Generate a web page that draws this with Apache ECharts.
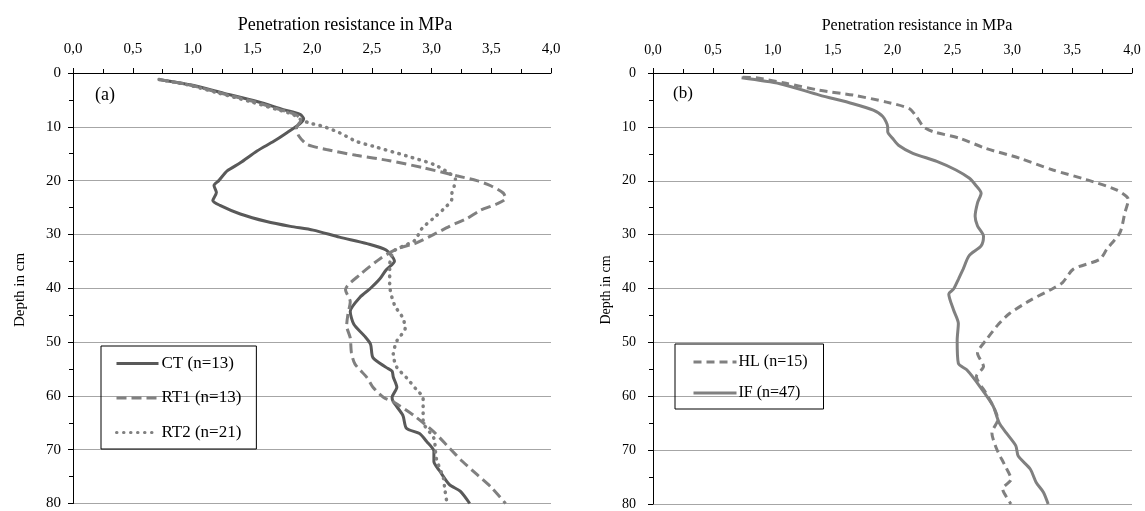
<!DOCTYPE html>
<html>
<head>
<meta charset="utf-8">
<script src="https://cdn.jsdelivr.net/npm/echarts@6/dist/echarts.min.js"></script>
<style>
html,body{margin:0;padding:0;background:#fff;}
#c{width:1145px;height:511px;}
</style>
</head>
<body>
<div id="c"></div>
<script>
// ---- Panel (a) ----
const ctDepth = [1.2,2.2,3.75,5.3,6.8,7.7,8.5,9.4,11.1,12.7,14.5,16.7,18.2,20.0,20.9,22.2,23.7,24.6,26.2,27.6,28.5,29.2,30.5,31.7,32.9,35.0,36.6,38.2,40.0,41.7,44.3,46.7,48.9,50.4,52.9,54.7,55.4,56.5,58.4,60.3,61.1,63.6,66.0,67.0,68.5,70.3,72.2,74.0,76.5,77.7,80.0];
const ctValue = [0.72,0.98,1.26,1.54,1.76,1.90,1.93,1.90,1.79,1.68,1.54,1.40,1.29,1.22,1.18,1.20,1.17,1.23,1.40,1.62,1.82,2.01,2.23,2.46,2.62,2.69,2.62,2.57,2.49,2.40,2.32,2.35,2.44,2.49,2.51,2.62,2.67,2.68,2.71,2.67,2.68,2.76,2.79,2.90,2.96,3.02,3.02,3.07,3.15,3.24,3.32];

const rt1Depth = [1.2,2.2,3.75,5.3,6.8,7.7,8.7,10.2,11.7,13.3,14.2,15.3,16.3,17.6,19.1,20.0,21.0,22.3,23.3,24.3,25.5,27.0,28.5,30.0,31.7,32.6,34.5,37.5,40.3,42.5,44.9,47.0,49.2,52.0,54.1,56.6,58.4,60.3,61.1,63.6,66.7,69.7,72.2,74.6,77.0,80.0];
const rt1Value = [0.72,0.97,1.24,1.51,1.73,1.86,1.91,1.87,1.89,1.96,2.12,2.37,2.65,2.93,3.21,3.38,3.50,3.60,3.62,3.55,3.41,3.30,3.15,3.02,2.86,2.72,2.57,2.40,2.28,2.32,2.30,2.29,2.32,2.33,2.36,2.46,2.51,2.60,2.68,2.85,3.02,3.15,3.26,3.38,3.50,3.62];

const rt2Depth = [1.2,2.2,3.75,5.3,6.8,7.7,8.7,9.3,9.9,11.1,12.7,13.6,15.4,17.0,18.5,19.7,21.0,22.5,23.4,25.3,27.1,28.9,31.1,32.2,33.2,35.7,39.4,43.1,45.5,47.4,49.8,52.3,54.7,56.6,59.0,60.3,62.4,64.8,67.9,71.6,75.3,77.1,80.0];
const rt2Value = [0.72,0.96,1.22,1.48,1.71,1.84,1.91,1.98,2.09,2.23,2.37,2.51,2.79,3.02,3.14,3.20,3.19,3.17,3.17,3.10,3.01,2.92,2.86,2.76,2.68,2.65,2.65,2.69,2.76,2.78,2.71,2.68,2.71,2.79,2.88,2.93,2.93,2.93,3.02,3.04,3.10,3.11,3.13];

// ---- Panel (b) ----
const hlDepth = [0.8,0.9,1.9,3.2,4.1,5.4,6.6,8.1,10.0,10.9,12.1,14.0,15.8,18.0,19.8,21.7,23.5,26.0,29.6,32.7,34.6,36.4,38.9,40.0,42.2,44.6,46.5,49.6,52.0,54.5,56.3,59.4,61.8,64.3,66.8,69.8,72.9,75.4,77.2,79.7,80.0];
const hlValue = [0.75,0.86,1.11,1.39,1.67,1.95,2.14,2.20,2.26,2.34,2.56,2.78,3.06,3.34,3.62,3.87,3.97,3.94,3.90,3.79,3.73,3.51,3.42,3.34,3.15,2.98,2.89,2.78,2.71,2.76,2.70,2.78,2.84,2.88,2.83,2.87,2.94,2.99,2.92,2.98,2.99];

const ifDepth = [0.9,2.0,4.1,5.7,6.9,8.1,10.0,10.9,12.1,13.4,14.9,16.4,18.0,19.5,20.7,22.3,24.1,26.6,28.4,30.3,32.1,33.9,36.4,38.3,40.1,41.0,44.0,46.5,49.6,53.9,55.1,58.2,61.8,64.9,66.8,69.2,71.1,73.5,76.0,77.8,80.0];
const ifValue = [0.74,1.06,1.39,1.67,1.84,1.92,1.96,1.96,2.00,2.05,2.17,2.37,2.53,2.64,2.69,2.74,2.71,2.69,2.71,2.76,2.74,2.64,2.59,2.55,2.51,2.47,2.51,2.55,2.54,2.55,2.62,2.73,2.84,2.89,2.95,3.03,3.05,3.15,3.20,3.26,3.30];

const xTicks = [0, 0.5, 1, 1.5, 2, 2.5, 3, 3.5, 4];
const yTicks = [0, 10, 20, 30, 40, 50, 60, 70, 80];
const xTitle = 'Penetration resistance in MPa';
const yTitle = 'Depth in cm';

const pair = (d, v) => v.map((x, i) => [x, d[i]]);
const FONT = '"Liberation Serif", "Times New Roman", serif';

function xAx(gi, fs) {
  return {
    gridIndex: gi, type: 'value', position: 'top',
    min: xTicks[0], max: xTicks[xTicks.length - 1], interval: 0.5,
    axisLine: {show: true, onZero: false, lineStyle: {color: '#000', width: 1}},
    axisTick: {show: true, inside: false, length: 5, lineStyle: {color: '#000'}},
    minorTick: {show: true, splitNumber: 2, length: 4, lineStyle: {color: '#000'}},
    axisLabel: {margin: 16, color: '#000', fontFamily: FONT, fontSize: fs,
      formatter: v => v.toFixed(1).replace('.', ',')},
    splitLine: {show: false}
  };
}
function yAx(gi, fs, mg) {
  return {
    gridIndex: gi, type: 'value', inverse: true,
    min: yTicks[0], max: yTicks[yTicks.length - 1], interval: 10,
    axisLine: {show: true, onZero: false, lineStyle: {color: '#000', width: 1}},
    axisTick: {show: true, inside: false, length: 5, lineStyle: {color: '#000'}},
    minorTick: {show: true, splitNumber: 2, length: 4, lineStyle: {color: '#000'}},
    axisLabel: {margin: mg, color: '#000', fontFamily: FONT, fontSize: fs},
    splitLine: {show: true, lineStyle: {color: '#a6a6a6', width: 1}}
  };
}
function ser(name, gi, d, v, color, width, dash, cap) {
  return {
    name: name, type: 'line', xAxisIndex: gi, yAxisIndex: gi,
    data: pair(d, v), showSymbol: false, symbol: 'none', smooth: 0.25,
    lineStyle: {color: color, width: width, type: dash, cap: cap || 'butt'},
    itemStyle: {color: color},
    animation: false, z: 3
  };
}

const chart = echarts.init(document.getElementById('c'), null, {renderer: 'canvas'});
chart.setOption({
  backgroundColor: '#fff',
  animation: false,
  grid: [
    {left: 73, top: 73, width: 478, height: 434},
    {left: 653, top: 73, width: 479, height: 434}
  ],
  xAxis: [xAx(0, 15), xAx(1, 14)],
  yAxis: [yAx(0, 15, 12), yAx(1, 14, 17)],
  title: [
    {text: xTitle, left: 340, top: 11, textAlign: 'center',
     textStyle: {fontFamily: FONT, fontSize: 18, fontWeight: 'normal', color: '#000'}},
    {text: xTitle, left: 912, top: 13, textAlign: 'center',
     textStyle: {fontFamily: FONT, fontSize: 16, fontWeight: 'normal', color: '#000'}}
  ],
  legend: [
    {data: ['CT (n=13)', 'RT1 (n=13)', 'RT2 (n=21)'], orient: 'vertical', left: 101, top: 346,
     itemWidth: 42, itemHeight: 18, itemGap: 17.5, padding: [9, 15, 8, 14],
     borderColor: '#000', borderWidth: 1, selectedMode: false,
     itemStyle: {opacity: 0}, lineStyle: {width: 3},
     textStyle: {fontFamily: FONT, fontSize: 17, color: '#000', padding: [0, 0, 0, -2]}},
    {data: ['HL (n=15)', 'IF (n=47)'], orient: 'vertical', left: 675, top: 344,
     itemWidth: 43, itemHeight: 17, itemGap: 15, padding: [10, 16, 8, 17],
     borderColor: '#000', borderWidth: 1, selectedMode: false,
     itemStyle: {opacity: 0}, lineStyle: {width: 3},
     textStyle: {fontFamily: FONT, fontSize: 16, color: '#000', padding: [0, 0, 0, -3]}}
  ],
  graphic: [
    {type: 'text', left: 95, top: 86, style: {text: '(a)', font: '18px ' + FONT, fill: '#000'}},
    {type: 'text', left: 673, top: 85, style: {text: '(b)', font: '17px ' + FONT, fill: '#000'}},
    {type: 'text', x: 20, y: 290, rotation: Math.PI / 2,
     style: {text: yTitle, font: '15px ' + FONT, fill: '#000', textAlign: 'center', textVerticalAlign: 'middle'}},
    {type: 'text', x: 606, y: 290, rotation: Math.PI / 2,
     style: {text: yTitle, font: '14px ' + FONT, fill: '#000', textAlign: 'center', textVerticalAlign: 'middle'}}
  ],
  series: [
    ser('CT (n=13)', 0, ctDepth, ctValue, '#595959', 3, 'solid'),
    ser('RT1 (n=13)', 0, rt1Depth, rt1Value, '#808080', 3, [10, 5]),
    ser('RT2 (n=21)', 0, rt2Depth, rt2Value, '#808080', 3.5, [0.5, 6.5], 'round'),
    ser('HL (n=15)', 1, hlDepth, hlValue, '#808080', 3, [8, 5]),
    ser('IF (n=47)', 1, ifDepth, ifValue, '#808080', 3, 'solid')
  ]
});
</script>
</body>
</html>
